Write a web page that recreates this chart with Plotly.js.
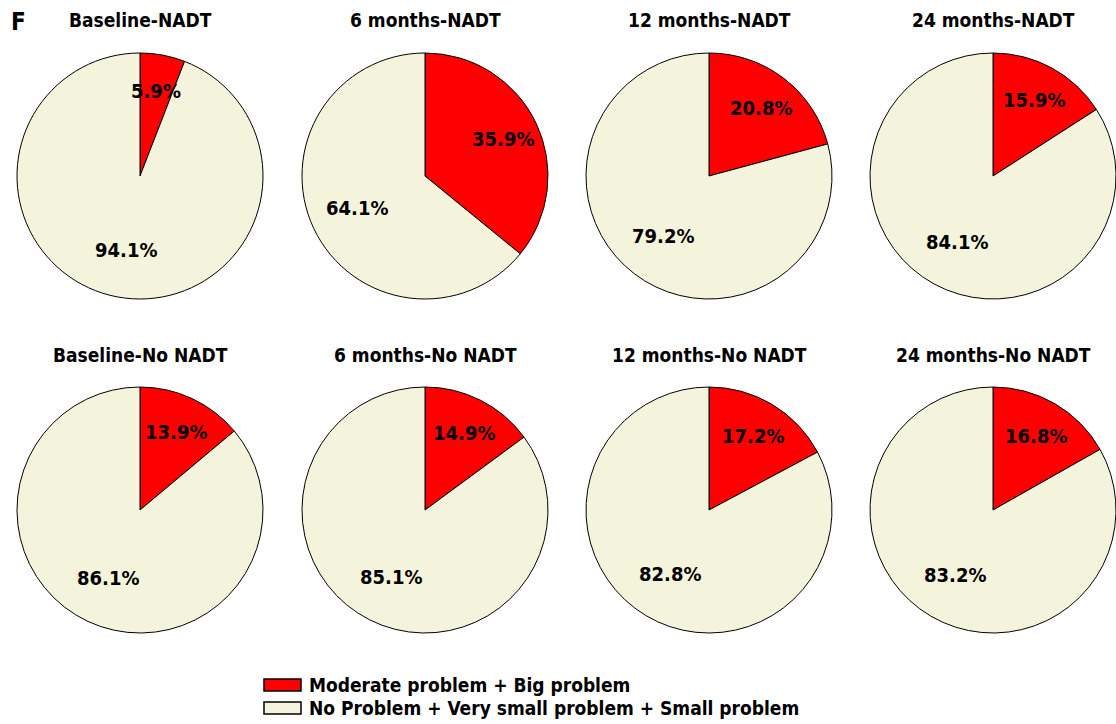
<!DOCTYPE html>
<html><head><meta charset="utf-8">
<script src="https://cdn.plot.ly/plotly-3.0.1.min.js"></script>
<style>html,body{margin:0;padding:0;background:#fff;}#chart{width:1116px;height:724px;}</style>
</head><body><div id="chart"></div>
<script>
const categories = ["Moderate problem + Big problem", "No Problem + Very small problem + Small problem"];
const titlesNADT = ["Baseline-NADT", "6 months-NADT", "12 months-NADT", "24 months-NADT"];
const titlesNoNADT = ["Baseline-No NADT", "6 months-No NADT", "12 months-No NADT", "24 months-No NADT"];
const redNADT = [5.9, 35.9, 20.8, 15.9];
const creamNADT = [94.1, 64.1, 79.2, 84.1];
const redNoNADT = [13.9, 14.9, 17.2, 16.8];
const creamNoNADT = [86.1, 85.1, 82.8, 83.2];
const colors = ["#ff0000", "#f4f4dc"];
const FONT = "DejaVu Sans Condensed, DejaVu Sans, sans-serif";

const W = 1116, H = 724;
const colCenters = [140, 425, 709, 993];
const rowCenters = [176, 510];
const R = 123;
const labelRadius = [0.70, 0.61]; // fraction of radius for label placement per category

const traces = [];
const annotations = [];
const shapes = [];
const rows = [
  {titles: titlesNADT, red: redNADT, cream: creamNADT},
  {titles: titlesNoNADT, red: redNoNADT, cream: creamNoNADT}
];
rows.forEach((row, ri) => {
  row.titles.forEach((t, ci) => {
    const cx = colCenters[ci], cy = rowCenters[ri];
    const vals = [row.red[ci], row.cream[ci]];
    traces.push({
      type: 'pie',
      values: vals,
      labels: categories,
      sort: false,
      direction: 'clockwise',
      rotation: 0,
      marker: {colors: colors, line: {color: '#000', width: 1}},
      textinfo: 'none',
      hoverinfo: 'label+value',
      showlegend: false,
      domain: {x: [(cx - R) / W, (cx + R) / W], y: [1 - (cy + R) / H, 1 - (cy - R) / H]}
    });
    // slice value labels placed along each slice's bisector
    const total = vals.reduce((a, b) => a + b, 0);
    let cum = 0;
    vals.forEach((v, k) => {
      const mid = (cum + v / 2) / total * 2 * Math.PI;
      cum += v;
      const r = labelRadius[k] * R;
      const px = cx + r * Math.sin(mid), py = cy - r * Math.cos(mid);
      annotations.push({
        text: '<b>' + v.toFixed(1) + '%</b>', xref: 'paper', yref: 'paper',
        x: px / W, y: 1 - py / H, xanchor: 'center', yanchor: 'middle', showarrow: false,
        font: {family: FONT, size: 20, color: '#000'}
      });
    });
    annotations.push({
      text: '<b>' + t + '</b>', xref: 'paper', yref: 'paper',
      x: cx / W, y: 1 - (ri === 0 ? 20 : 355) / H, xanchor: 'center', yanchor: 'middle',
      showarrow: false, font: {family: FONT, size: 19, color: '#000'}
    });
  });
});
annotations.push({
  text: '<b>F</b>', xref: 'paper', yref: 'paper', x: 9 / W, y: 1 - 22 / H,
  xanchor: 'left', yanchor: 'middle', showarrow: false,
  font: {family: FONT, size: 24, color: '#000'}
});
// legend
const legY = [685, 708];
categories.forEach((c, i) => {
  shapes.push({type: 'rect', xref: 'paper', yref: 'paper',
    x0: 264 / W, x1: 301 / W, y0: 1 - (legY[i] + 6) / H, y1: 1 - (legY[i] - 6) / H,
    fillcolor: colors[i], line: {color: '#000', width: 1.5}});
  annotations.push({text: '<b>' + c + '</b>', xref: 'paper', yref: 'paper',
    x: 307 / W, y: 1 - legY[i] / H, xanchor: 'left', yanchor: 'middle', showarrow: false,
    font: {family: FONT, size: 19, color: '#000'}});
});

Plotly.newPlot('chart', traces, {
  width: W, height: H,
  margin: {l: 0, r: 0, t: 0, b: 0},
  paper_bgcolor: '#fff',
  showlegend: false,
  annotations: annotations,
  shapes: shapes
}, {displayModeBar: false, staticPlot: true});
</script></body></html>
